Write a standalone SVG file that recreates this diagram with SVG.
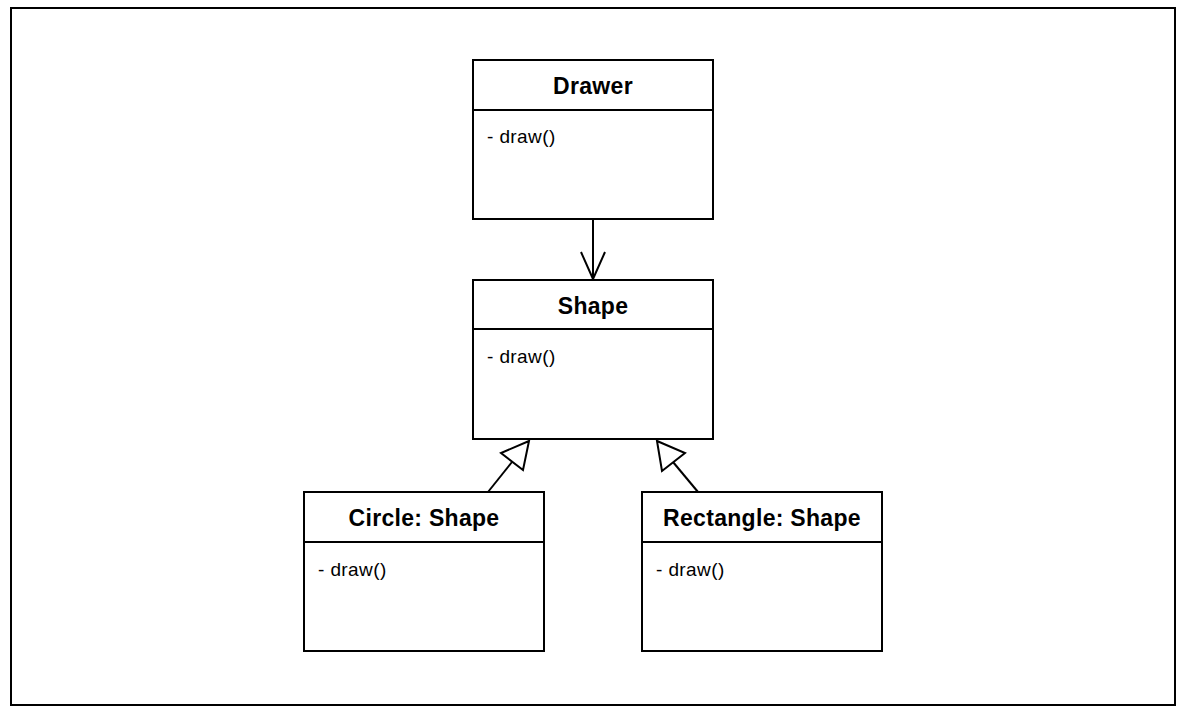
<svg xmlns="http://www.w3.org/2000/svg" width="1186" height="714" viewBox="0 0 1186 714">
<style>
.box{fill:#fff;stroke:#000;stroke-width:2}
.div{stroke:#000;stroke-width:2}
.title{font-family:"Liberation Sans",Arial,sans-serif;font-weight:bold;font-size:23px;letter-spacing:0.3px;text-anchor:middle;fill:#000}
.op{font-family:"Liberation Sans",Arial,sans-serif;font-size:19px;letter-spacing:0.4px;fill:#000}
.edge{fill:none;stroke:#000;stroke-width:2}
.tri{fill:#fff;stroke:#000;stroke-width:2}
</style>
<rect x="0" y="0" width="1186" height="714" fill="#fff"/>
<rect x="11" y="8" width="1164" height="697" fill="#fff" stroke="#000" stroke-width="2"/>
<g id="connectors">
<line class="edge" x1="593" y1="220" x2="593" y2="279"/>
<polyline class="edge" points="581,252 593,279 605,252"/>
<line class="edge" x1="488" y1="492" x2="512" y2="462"/>
<polygon class="tri" points="529,441 523,470 501,453"/>
<line class="edge" x1="698" y1="492" x2="673" y2="462"/>
<polygon class="tri" points="657,441 662,471 685,453"/>
</g>
<g id="drawer">
<rect class="box" x="473" y="60" width="240" height="159"/>
<line class="div" x1="473" y1="110" x2="713" y2="110"/>
<text class="title" x="593" y="94">Drawer</text>
<text class="op" x="487" y="143">- draw()</text>
</g>
<g id="shape">
<rect class="box" x="473" y="280" width="240" height="159"/>
<line class="div" x1="473" y1="329" x2="713" y2="329"/>
<text class="title" x="593" y="314">Shape</text>
<text class="op" x="487" y="363">- draw()</text>
</g>
<g id="circle">
<rect class="box" x="304" y="492" width="240" height="159"/>
<line class="div" x1="304" y1="542" x2="544" y2="542"/>
<text class="title" x="424" y="526">Circle: Shape</text>
<text class="op" x="318" y="576">- draw()</text>
</g>
<g id="rectangle">
<rect class="box" x="642" y="492" width="240" height="159"/>
<line class="div" x1="642" y1="542" x2="882" y2="542"/>
<text class="title" x="762" y="526">Rectangle: Shape</text>
<text class="op" x="656" y="576">- draw()</text>
</g>
</svg>
